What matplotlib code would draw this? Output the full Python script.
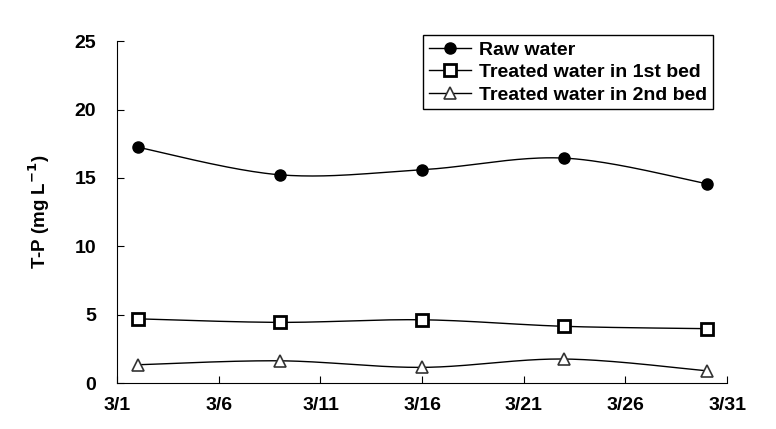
import numpy as np
import matplotlib
matplotlib.use('Agg')
import matplotlib.pyplot as plt

plt.rcParams['font.family'] = ['Liberation Sans', 'DejaVu Sans']
plt.rcParams['font.weight'] = 'bold'

# data (day of March)
days = [2, 9, 16, 23, 30]
raw_water = [17.25, 15.23, 15.6, 16.45, 14.58]
bed1 = [4.7, 4.44, 4.63, 4.15, 3.98]
bed2 = [1.34, 1.63, 1.15, 1.76, 0.9]
xticks = [1, 6, 11, 16, 21, 26, 31]
xticklabels = ['3/1', '3/6', '3/11', '3/16', '3/21', '3/26', '3/31']
yticks = [0, 5, 10, 15, 20, 25]


def smooth(x, y, n=40):
    # excel style smoothed line (catmull-rom as bezier)
    p = np.column_stack([x, y]).astype(float)
    p = np.vstack([p[0], p, p[-1]])
    t = np.linspace(0, 1, n)[:, None]
    segs = []
    for i in range(1, len(p) - 2):
        b0 = p[i]
        b3 = p[i + 1]
        b1 = b0 + (p[i + 1] - p[i - 1]) / 6
        b2 = b3 - (p[i + 2] - p[i]) / 6
        c = ((1 - t) ** 3) * b0 + 3 * ((1 - t) ** 2) * t * b1 + 3 * (1 - t) * t ** 2 * b2 + t ** 3 * b3
        segs.append(c)
    c = np.vstack(segs)
    return c[:, 0], c[:, 1]


fig = plt.figure(figsize=(7.76, 4.29), dpi=100)
ax = fig.add_axes([0.151, 0.107, 0.786, 0.797])

series = [
    (raw_water, 'Raw water', dict(marker='o', markersize=8, markerfacecolor='black', markeredgecolor='black')),
    (bed1, 'Treated water in 1st bed', dict(marker='s', markersize=8, markerfacecolor='white', markeredgecolor='black', markeredgewidth=2)),
    (bed2, 'Treated water in 2nd bed', dict(marker='^', markersize=9, markerfacecolor='white', markeredgecolor='#333333', markeredgewidth=1.2)),
]
for vals, lab, mk in series:
    sx, sy = smooth(days, vals)
    ax.plot(sx, sy, color='black', lw=1, zorder=2)
    ax.plot(days, vals, linestyle='none', zorder=3, **mk)
    ax.plot([], [], color='black', lw=1, label=lab, **mk)

ax.set_xlim(1, 31)
ax.set_ylim(0, 25)
ax.set_xticks(xticks)
ax.set_xticklabels(xticklabels)
ax.set_yticks(yticks)
ax.spines['top'].set_visible(False)
ax.spines['right'].set_visible(False)
ax.tick_params(axis='both', direction='in', length=5, labelsize=14)
ax.tick_params(axis='x', pad=10)
ax.tick_params(axis='y', pad=15)
ax.set_ylabel('T-P (mg L$^{\\mathbf{-1}}$)', fontsize=13.5, fontweight='bold', labelpad=16)

leg = ax.legend(loc='upper right', bbox_to_anchor=(0.919, 0.918), bbox_transform=fig.transFigure,
                fancybox=False, edgecolor='black', framealpha=1, fontsize=14, borderaxespad=0,
                handlelength=2.2, borderpad=0.3, labelspacing=0.25, handletextpad=0.4)
leg.get_frame().set_linewidth(1)

plt.savefig('out.png')
